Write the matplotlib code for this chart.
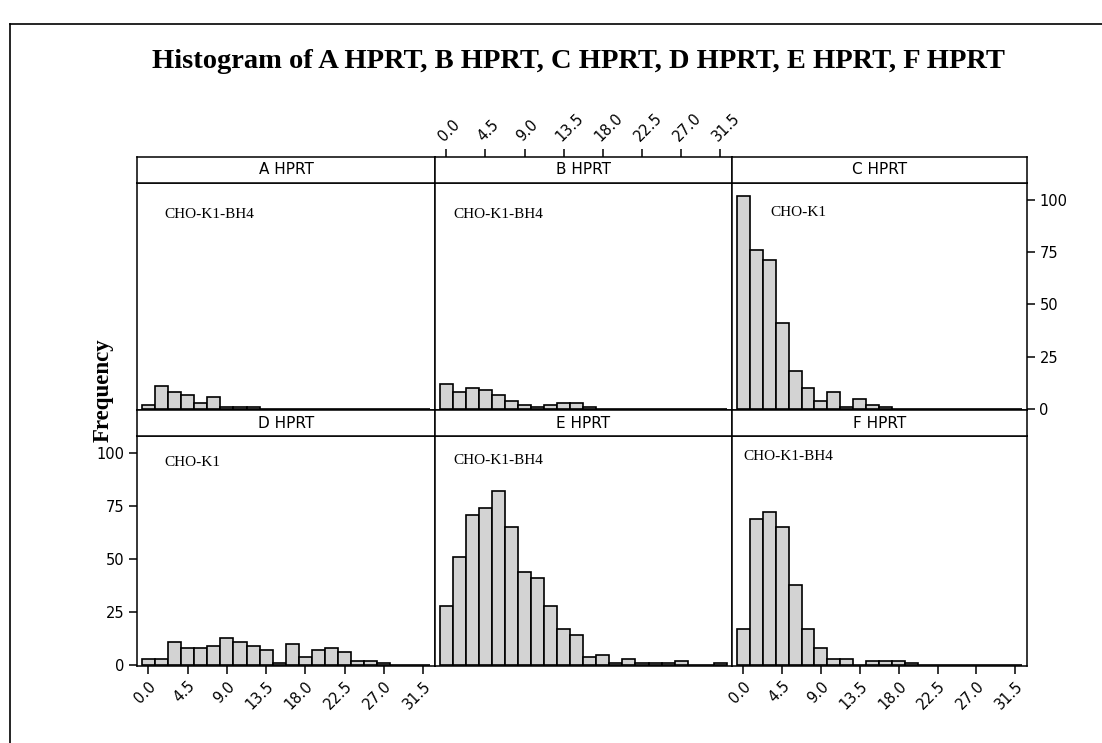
import matplotlib
matplotlib.use("Agg")
import matplotlib.pyplot as plt
from matplotlib.lines import Line2D
import numpy as np

# histogram counts per 1.5-wide bin, bins centred on 0.0, 1.5, ..., 31.5
bin_centers = np.arange(0, 31.6, 1.5)
counts_a = [2, 11, 8, 7, 3, 6, 1, 1, 1, 0, 0, 0, 0, 0, 0, 0, 0, 0, 0, 0, 0, 0]
counts_b = [12, 8, 10, 9, 7, 4, 2, 1, 2, 3, 3, 1, 0, 0, 0, 0, 0, 0, 0, 0, 0, 0]
counts_c = [102, 76, 71, 41, 18, 10, 4, 8, 1, 5, 2, 1, 0, 0, 0, 0, 0, 0, 0, 0, 0, 0]
counts_d = [3, 3, 11, 8, 8, 9, 13, 11, 9, 7, 1, 10, 4, 7, 8, 6, 2, 2, 1, 0, 0, 0]
counts_e = [28, 51, 71, 74, 82, 65, 44, 41, 28, 17, 14, 4, 5, 1, 3, 1, 1, 1, 2, 0, 0, 1]
counts_f = [17, 69, 72, 65, 38, 17, 8, 3, 3, 0, 2, 2, 2, 1, 0, 0, 0, 0, 0, 0, 0, 0]

panel_names = ["A HPRT", "B HPRT", "C HPRT", "D HPRT", "E HPRT", "F HPRT"]
cell_lines = ["CHO-K1-BH4", "CHO-K1-BH4", "CHO-K1", "CHO-K1", "CHO-K1-BH4", "CHO-K1-BH4"]
x_ticks = [0.0, 4.5, 9.0, 13.5, 18.0, 22.5, 27.0, 31.5]
y_ticks = [0, 25, 50, 75, 100]

W, H = 1102, 743
fig = plt.figure(figsize=(W / 100, H / 100), dpi=100)
fig.patch.set_facecolor("white")


def rect(x0, y0, x1, y1):
    return [x0 / W, 1 - y1 / H, (x1 - x0) / W, (y1 - y0) / H]


# outer frame (left and top edges)
fig.add_artist(Line2D([10 / W, 10 / W], [0, 1 - 24 / H], color="black", lw=1.2))
fig.add_artist(Line2D([10 / W, 1], [1 - 24 / H, 1 - 24 / H], color="black", lw=1.2))

fig.text(578 / W, 1 - 62 / H,
         "Histogram of A HPRT, B HPRT, C HPRT, D HPRT, E HPRT, F HPRT",
         ha="center", va="center", fontsize=20.5, fontweight="bold",
         family="Liberation Serif")
fig.text(103 / W, 1 - 390 / H, "Frequency", rotation=90, ha="center",
         va="center", fontsize=16.5, fontweight="bold", family="Liberation Serif")

cols = [(137, 435), (435, 732), (732, 1027)]
rows = [(157, 183, 410), (410, 436, 666)]
all_counts = [counts_a, counts_b, counts_c, counts_d, counts_e, counts_f]
label_pos = [(164, 214), (453, 214), (770, 212), (164, 463), (453, 460), (743, 457)]

tick_font = dict(fontsize=10.5, family="DejaVu Sans")

for i, counts in enumerate(all_counts):
    r, c = divmod(i, 3)
    x0, x1 = cols[c]
    s0, s1, p1 = rows[r]
    ax = fig.add_axes(rect(x0, s1, x1, p1))
    strip = fig.add_axes(rect(x0, s0, x1, s1), sharex=ax)

    ax.bar(bin_centers, counts, width=1.5, color="#d3d3d3",
           edgecolor="black", linewidth=1.2)
    ax.set_xlim(-1.3, 32.85)
    ax.set_ylim(-0.4, 108)
    for sp in ax.spines.values():
        sp.set_linewidth(1.1)

    ax.tick_params(axis="both", which="both", bottom=False, top=False,
                   left=False, right=False, labelbottom=False, labeltop=False,
                   labelleft=False, labelright=False, direction="out",
                   length=6, width=1.1, pad=3)
    ax.set_xticks(x_ticks)
    ax.set_yticks(y_ticks)
    xlabels = [f"{t:.1f}" for t in x_ticks]

    # Minitab-style alternating axes
    if r == 1 and c in (0, 2):
        ax.tick_params(axis="x", bottom=True, labelbottom=True)
        ax.set_xticklabels(xlabels, rotation=45, ha="right",
                           rotation_mode="anchor", **tick_font)
    if r == 1 and c == 0:
        ax.tick_params(axis="y", left=True, labelleft=True)
        ax.set_yticklabels([str(t) for t in y_ticks], **tick_font)
    if r == 0 and c == 2:
        ax.tick_params(axis="y", right=True, labelright=True)
        ax.set_yticklabels([str(t) for t in y_ticks], **tick_font)

    strip.set_yticks([])
    strip.tick_params(axis="x", bottom=False, top=False, labelbottom=False,
                      labeltop=False, direction="out", length=6, width=1.1, pad=3)
    if r == 0 and c == 1:
        strip.tick_params(axis="x", top=True, labeltop=True)
        strip.set_xticks(x_ticks)
        strip.set_xticklabels(xlabels, rotation=45, ha="left",
                              rotation_mode="anchor", **tick_font)
    for sp in strip.spines.values():
        sp.set_linewidth(1.1)
    strip.text(0.5, 0.5, panel_names[i], transform=strip.transAxes,
               ha="center", va="center", fontsize=11, family="DejaVu Sans")

    lx, ly = label_pos[i]
    fig.text(lx / W, 1 - ly / H, cell_lines[i], ha="left", va="center",
             fontsize=11, family="Liberation Serif")

fig.savefig("out.png", dpi=100)
